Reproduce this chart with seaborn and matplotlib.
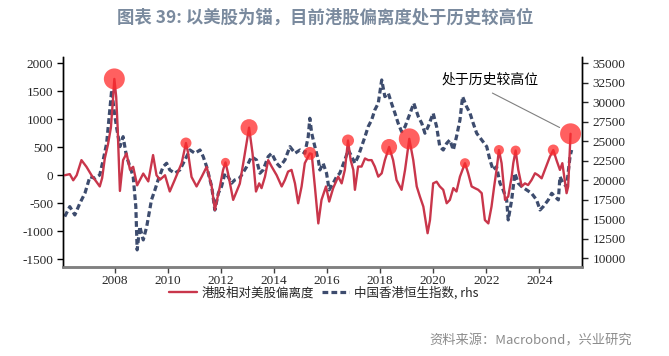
import seaborn as sns
import pandas as pd
import matplotlib.pyplot as plt
import numpy as np

# 港股相对美股偏离度（左轴）
dev_year = [2006.11, 2006.30, 2006.43, 2006.56, 2006.74, 2006.93, 2007.12, 2007.31, 2007.43, 2007.52,
            2007.62, 2007.74, 2007.85, 2007.92, 2007.98, 2008.05, 2008.10, 2008.19, 2008.31, 2008.44,
            2008.57, 2008.69, 2008.84, 2009.07, 2009.26, 2009.44, 2009.57, 2009.70, 2009.89, 2010.07,
            2010.26, 2010.52, 2010.68, 2010.76, 2010.89, 2011.08, 2011.27, 2011.46, 2011.65, 2011.77,
            2011.96, 2012.08, 2012.17, 2012.27, 2012.46, 2012.71, 2012.84, 2013.06, 2013.19, 2013.32,
            2013.44, 2013.53, 2013.66, 2013.78, 2013.91, 2014.10, 2014.29, 2014.41, 2014.53, 2014.66,
            2014.79, 2014.91, 2015.04, 2015.16, 2015.35, 2015.42, 2015.54, 2015.67, 2015.79, 2015.96,
            2016.08, 2016.23, 2016.42, 2016.55, 2016.67, 2016.79, 2016.89, 2016.99, 2017.05, 2017.17,
            2017.30, 2017.43, 2017.55, 2017.68, 2017.80, 2017.93, 2018.06, 2018.18, 2018.34, 2018.49,
            2018.62, 2018.81, 2018.94, 2019.10, 2019.25, 2019.38, 2019.50, 2019.63, 2019.79, 2019.88,
            2020.00, 2020.13, 2020.25, 2020.38, 2020.51, 2020.63, 2020.76, 2020.88, 2021.01, 2021.20,
            2021.32, 2021.45, 2021.57, 2021.70, 2021.83, 2021.95, 2022.08, 2022.20, 2022.30, 2022.39,
            2022.48, 2022.58, 2022.71, 2022.83, 2022.96, 2023.02, 2023.11, 2023.21, 2023.34, 2023.46,
            2023.58, 2023.71, 2023.84, 2023.96, 2024.09, 2024.21, 2024.40, 2024.53, 2024.65, 2024.78,
            2024.87, 2024.94, 2025.03, 2025.09, 2025.18]
dev_value = [0, 20, -90, 0, 270, 150, 0, -120, -200, -50,
             300, 550, 850, 1300, 1720, 1400, 900, -280, 270, 390,
             100, 150, -180, 30, -110, 360, 0, -80, 0, -290,
             -80, 220, 575, 400, -30, -200, -30, 150, -200, -620,
             -200, 95, 230, 25, -440, -150, 215, 850, 390, -290,
             -145, -230, -25, 270, 155, 0, -200, -85, 65, 95,
             -145, -500, -200, 215, 390, 380, -200, -860, -440, -200,
             -470, -230, -25, -145, 95, 620, 270, 95, -260, 155,
             155, 300, 270, 270, 155, -25, 35, 270, 505, 270,
             -85, -260, 95, 650, 270, -200, -380, -560, -1035, -800,
             -145, -115, -200, -260, -500, -440, -230, -290, -25, 215,
             35, -200, -230, -260, -320, -800, -860, -560, -200, 95,
             450, 215, -440, -380, -25, 215, 440, 95, -200, -145,
             -175, -85, 35, 0, -55, 95, 330, 450, 270, 95,
             215, -25, -320, -200, 740]

# 中国香港恒生指数（右轴）
hsi_year = [2006.11, 2006.30, 2006.49, 2006.68, 2006.87, 2007.06, 2007.25, 2007.43, 2007.56, 2007.69,
            2007.81, 2007.88, 2007.97, 2008.06, 2008.19, 2008.31, 2008.44, 2008.57, 2008.69, 2008.79,
            2008.84, 2008.94, 2009.07, 2009.20, 2009.29, 2009.38, 2009.51, 2009.63, 2009.82, 2009.95,
            2010.07, 2010.26, 2010.45, 2010.64, 2010.83, 2011.02, 2011.21, 2011.33, 2011.46, 2011.65,
            2011.77, 2011.90, 2012.02, 2012.15, 2012.27, 2012.40, 2012.52, 2012.71, 2012.97, 2013.15,
            2013.34, 2013.47, 2013.59, 2013.78, 2013.91, 2014.10, 2014.22, 2014.41, 2014.60, 2014.79,
            2014.98, 2015.16, 2015.29, 2015.35, 2015.42, 2015.54, 2015.67, 2015.73, 2015.85, 2015.98,
            2016.08, 2016.23, 2016.36, 2016.48, 2016.67, 2016.80, 2016.93, 2017.05, 2017.17, 2017.30,
            2017.43, 2017.55, 2017.68, 2017.80, 2017.93, 2018.06, 2018.18, 2018.31, 2018.43, 2018.56,
            2018.68, 2018.81, 2018.94, 2019.13, 2019.27, 2019.44, 2019.57, 2019.69, 2019.81, 2020.00,
            2020.13, 2020.25, 2020.38, 2020.51, 2020.63, 2020.76, 2020.88, 2021.01, 2021.11, 2021.26,
            2021.39, 2021.51, 2021.64, 2021.83, 2022.02, 2022.14, 2022.26, 2022.39, 2022.52, 2022.64,
            2022.77, 2022.83, 2022.96, 2023.08, 2023.21, 2023.34, 2023.52, 2023.71, 2023.90, 2024.03,
            2024.15, 2024.34, 2024.47, 2024.59, 2024.72, 2024.78, 2024.90, 2025.03, 2025.16, 2025.22]
hsi_value = [15340, 16620, 15550, 17050, 18330, 20460, 20250, 20680, 22600, 24740,
             29010, 31580, 29010, 26870, 24310, 25590, 23030, 21740, 20460, 16620,
             11070, 14050, 12350, 14050, 15770, 17480, 18760, 20040, 21740, 22180,
             21320, 20900, 21320, 22600, 23880, 23460, 23880, 23030, 21740, 19180,
             16180, 18330, 19180, 20900, 20460, 19620, 20040, 20300, 21740, 23030,
             22600, 20900, 21320, 23030, 23460, 22180, 21740, 22600, 24310, 23460,
             23880, 23460, 25590, 27950, 26030, 24310, 22600, 21320, 22180, 20900,
             18760, 19620, 20460, 20900, 22600, 23880, 23030, 22180, 23030, 24310,
             25590, 26870, 27730, 29010, 29870, 32860, 30720, 31150, 29870, 28590,
             27310, 26230, 26870, 28590, 29870, 28160, 27310, 26030, 26870, 28590,
             26870, 24310, 23880, 24740, 25170, 23880, 25590, 27730, 30720, 29440,
             28590, 27310, 26030, 25170, 24310, 22600, 21320, 21740, 19620, 18760,
             17480, 14910, 17480, 20900, 19620, 19180, 18760, 18330, 17480, 16190,
             16620, 17480, 18330, 17900, 17480, 20460, 19620, 19180, 23030, 23880]

# 偏离度高位标记
peak_year = [2007.98, 2010.68, 2012.17, 2013.06, 2015.35, 2016.79, 2018.34,
             2019.10, 2021.20, 2022.48, 2023.11, 2024.53, 2025.18]
peak_value = [1720, 575, 230, 850, 390, 620, 505, 650, 215, 450, 440, 450, 740]
peak_size = [228, 63, 42, 150, 87, 75, 132, 228, 52, 52, 52, 63, 228]

year_ticks = list(range(2008, 2025, 2))
lhs_ticks = list(range(-1500, 2001, 500))
rhs_ticks = list(range(10000, 35001, 2500))

sns.set_style('white')
plt.rcParams['font.family'] = ['Noto Sans CJK SC', 'DejaVu Sans']

red = '#c9364b'
navy = '#3d4c6e'

fig = plt.figure(figsize=(6.69, 3.56), dpi=100)
ax = fig.add_axes([0.094, 0.251, 0.7755, 0.589])
ax2 = ax.twinx()

sns.lineplot(x=hsi_year, y=hsi_value, ax=ax2, color=navy, linewidth=2.3, legend=False)
ax2.lines[0].set_dashes((1.8, 1.0))

sns.lineplot(x=dev_year, y=dev_value, ax=ax, color=red, linewidth=1.7, legend=False)
sns.scatterplot(x=peak_year, y=peak_value, ax=ax, s=peak_size, color='#ff2b2b',
                alpha=0.75, linewidth=0, zorder=5, legend=False)
if ax.get_legend() is not None:
    ax.get_legend().remove()

ax.set_zorder(ax2.get_zorder() + 1)
ax.patch.set_visible(False)

ax.set_xlim(2006.04, 2025.6)
ax.set_ylim(-1632, 2112)
ax2.set_ylim(8923, 35808)

ax.set_xticks(year_ticks)
ax.set_yticks(lhs_ticks)
ax2.set_yticks(rhs_ticks)
ax.set_xticklabels([str(y) for y in year_ticks])
ax.set_yticklabels([str(v) for v in lhs_ticks])
ax2.set_yticklabels([str(v) for v in rhs_ticks])

for a in (ax, ax2):
    a.set_xlabel('')
    a.set_ylabel('')
    a.spines['top'].set_visible(False)
    a.spines['bottom'].set_color('#808080')
    a.spines['bottom'].set_linewidth(1.8)
    a.spines['left'].set_color('black')
    a.spines['right'].set_color('black')
    a.spines['left'].set_linewidth(1.0)
    a.spines['right'].set_linewidth(1.0)
    for lab in a.get_xticklabels() + a.get_yticklabels():
        lab.set_fontfamily('Liberation Serif')
        lab.set_fontsize(9.5)

ax.tick_params(axis='y', direction='out', length=4, width=1, color='black', pad=3, left=True)
ax.tick_params(axis='x', direction='out', length=4, width=1, color='#404040', pad=2, bottom=True)
ax2.tick_params(axis='y', direction='out', length=4, width=1, pad=4, right=True)
for i, t in enumerate(ax2.yaxis.get_major_ticks()):
    t.tick2line.set_color('black' if i % 2 == 0 else '#808080')

# 注释
ax.text(2022.15, 1700, '处于历史较高位', ha='center', va='center', fontsize=10, color='black')
ax.annotate('', xy=(2024.86, 830), xytext=(2022.14, 1490),
            arrowprops=dict(arrowstyle='-', color='#808080', lw=0.8))

handles = [ax.lines[0], ax2.lines[0]]
fig.legend(handles, ['港股相对美股偏离度', '中国香港恒生指数, rhs'], loc='center',
           bbox_to_anchor=(0.484, 0.177), ncol=2, frameon=False, fontsize=9,
           handlelength=2.2, columnspacing=0.6, handletextpad=0.4)

fig.text(0.486, 0.952, '图表 39: 以美股为锚，目前港股偏离度处于历史较高位', ha='center', va='center',
         fontsize=12.5, fontweight='bold', color='#7a8a9e')
fig.text(0.945, 0.042, '资料来源：Macrobond，兴业研究', ha='right', va='center',
         fontsize=9.5, color='#8c8c8c')

fig.savefig('out.png', dpi=100)
